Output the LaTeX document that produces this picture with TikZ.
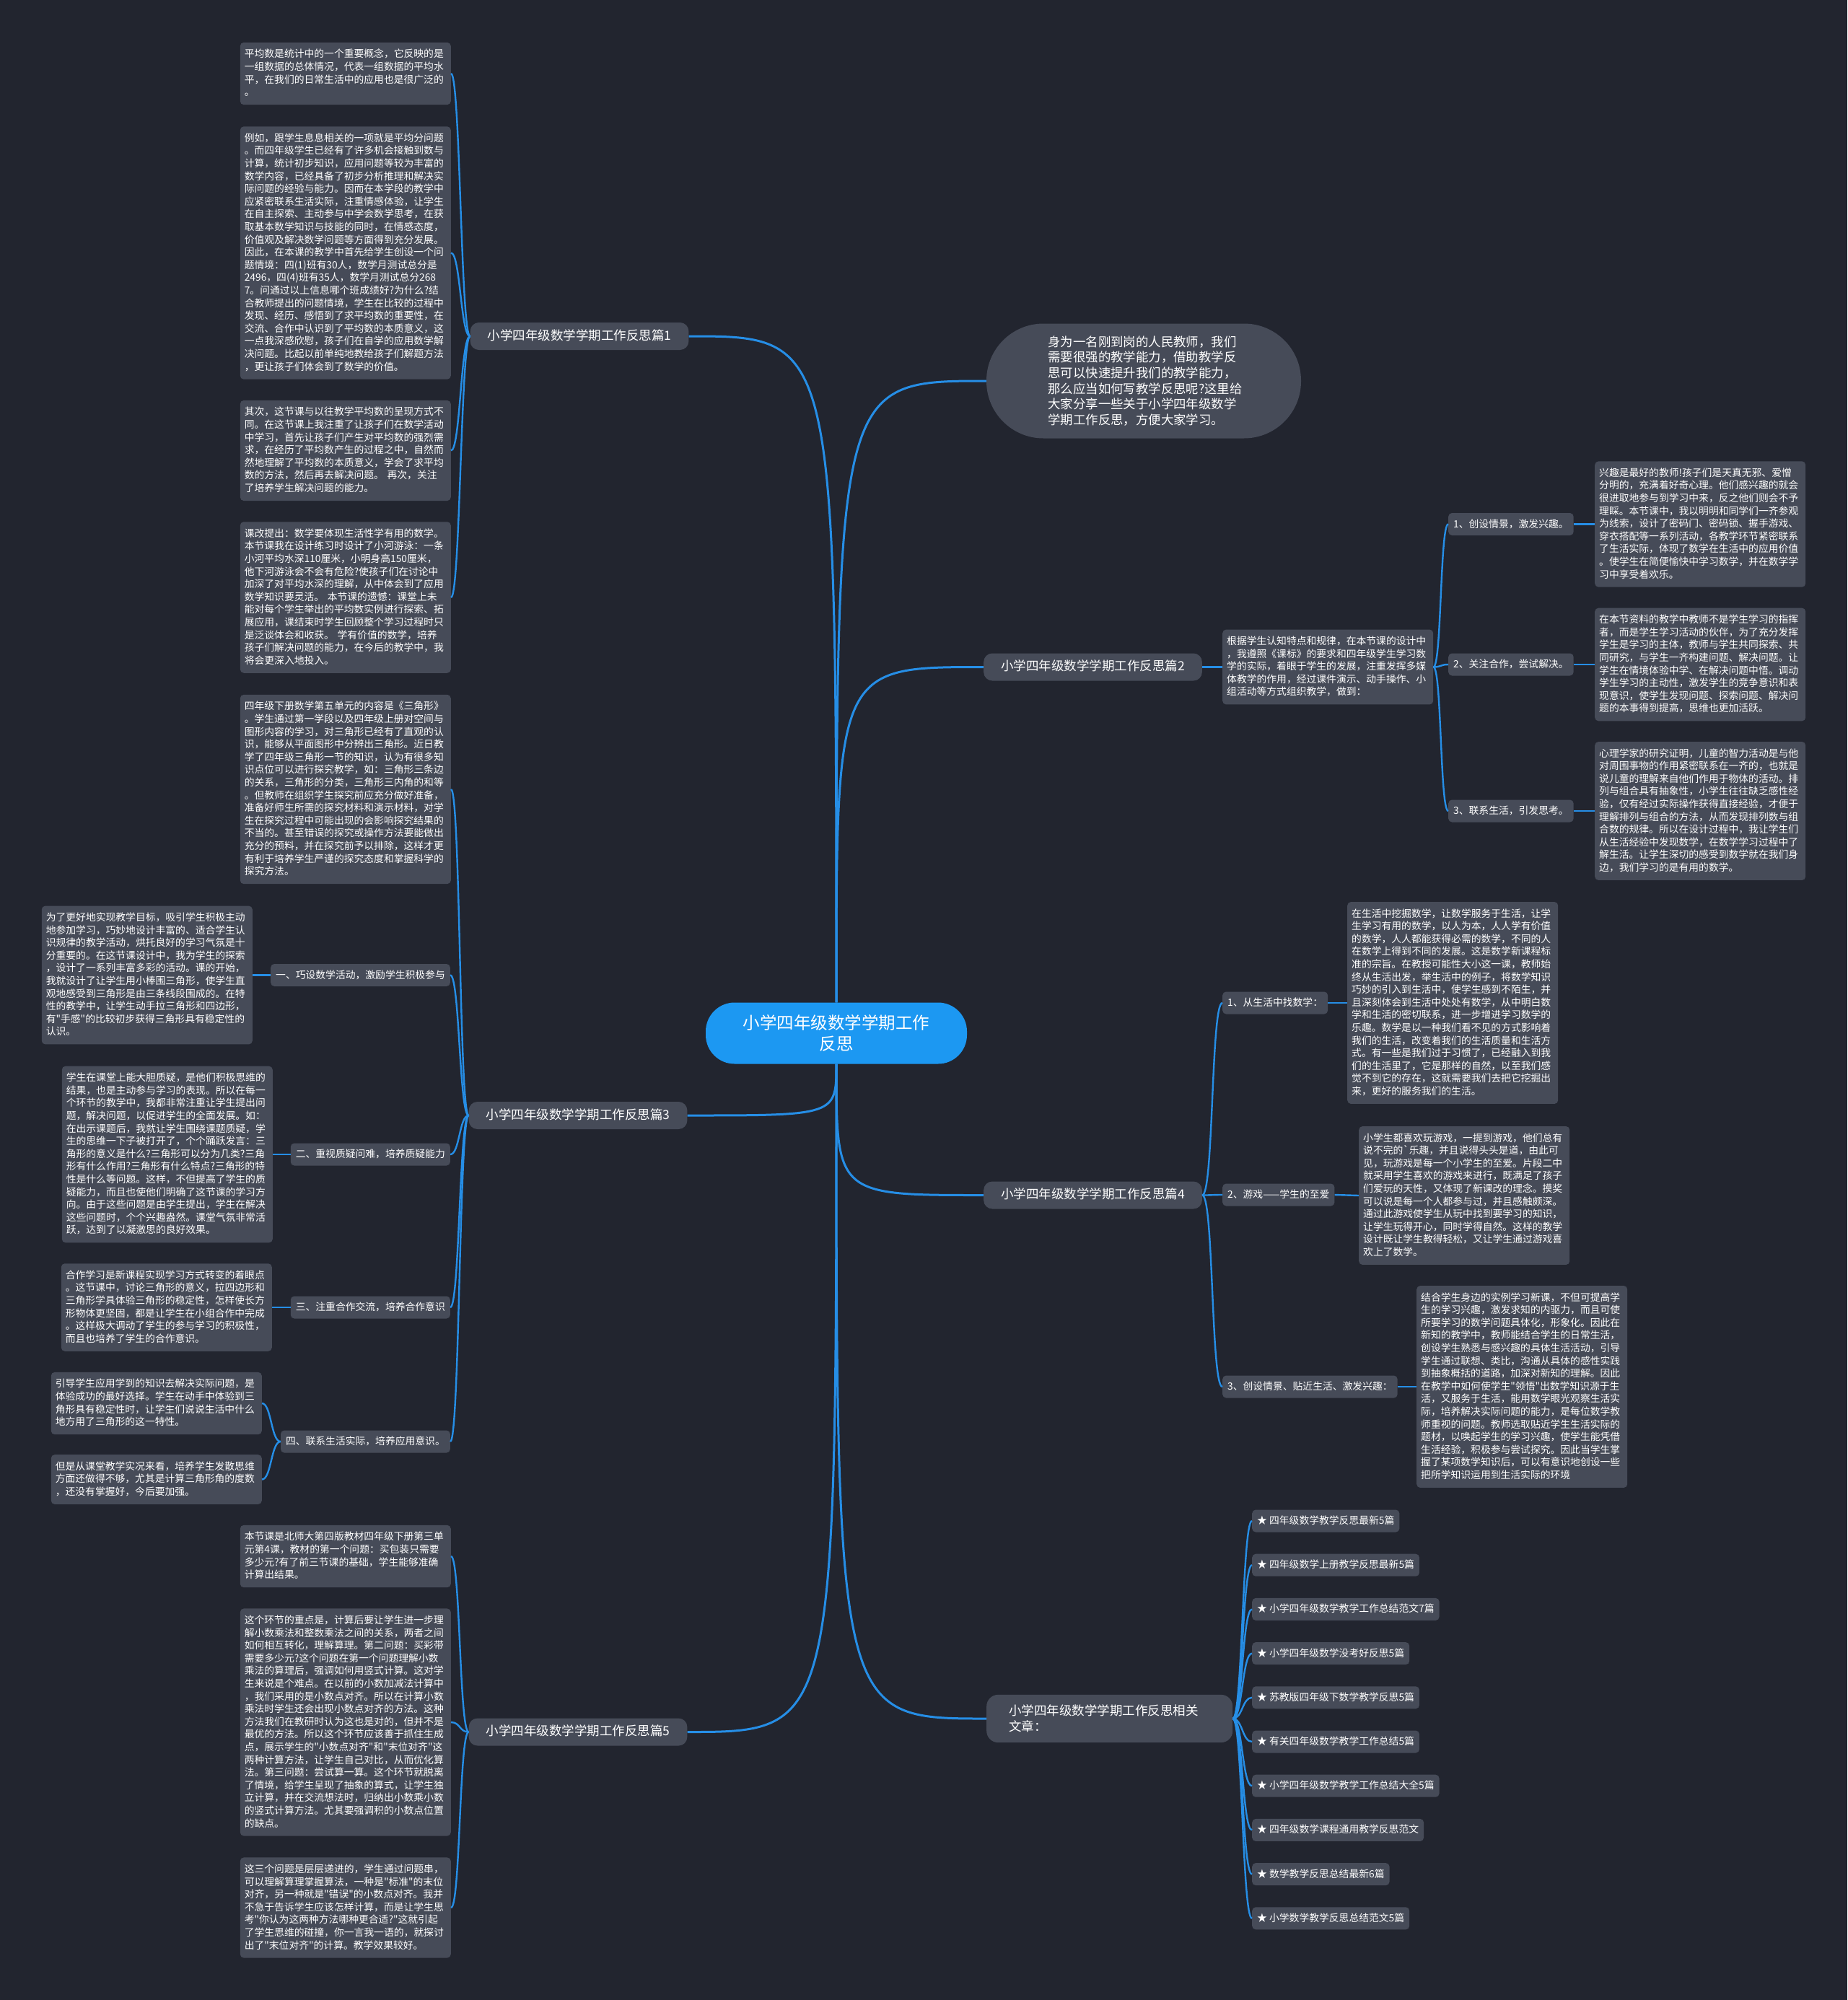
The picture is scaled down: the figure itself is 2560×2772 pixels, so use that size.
\documentclass[tikz,border=0pt]{standalone}
\usepackage{fontspec}
\setmainfont{Noto Sans CJK SC}[Ligatures=TeXOff]
\definecolor{bg}{RGB}{34,37,47}
\definecolor{boxc}{RGB}{70,75,88}
\definecolor{linec}{RGB}{38,142,230}
\definecolor{centc}{RGB}{28,152,242}
\tikzset{
 conn/.style={draw=linec, line width=3pt},
 subconn/.style={draw=linec, line width=2.4pt},
 tbox/.style={fill=boxc, rounded corners=5pt, text=white, align=left, text width=280pt, inner xsep=6pt, inner ysep=9pt, font=\fontsize{13.8pt}{17.6pt}\selectfont, execute at begin node=\rule{0pt}{12pt}, execute at end node=\rule[-3.5pt]{0pt}{3.5pt}},
 lab/.style={fill=boxc, rounded corners=5pt, text=white, inner xsep=7pt, inner ysep=8pt, text height=12pt, text depth=3pt, font=\fontsize{13.8pt}{17.6pt}\selectfont},
 lvl/.style={fill=boxc, rounded corners=12pt, text=white, inner xsep=24pt, inner ysep=10pt, text height=14pt, text depth=4pt, font=\fontsize{17.5pt}{22pt}\selectfont},
}
\begin{document}
\begin{tikzpicture}[x=1pt,y=-1pt]
\fill[bg] (0,0) rectangle (2560,2772);
\useasboundingbox (0,0) rectangle (2560,2772);

% centre and main branches
\node[fill=centc, rounded corners=40pt, text=white, align=center, minimum width=362pt, minimum height=85pt, inner sep=0pt, font=\fontsize{23.5pt}{29pt}\selectfont] (c) at (1159,1432) {小学四年级数学学期工作\\反思};
\node[fill=boxc, rounded corners=79pt, text=white, align=left, text width=265pt, minimum width=436pt, minimum height=159pt, inner sep=0pt, font=\fontsize{17.4pt}{21.7pt}\selectfont] (intro) at (1585,528) {身为一名刚到岗的人民教师，我们\\需要很强的教学能力，借助教学反\\思可以快速提升我们的教学能力，\\那么应当如何写教学反思呢?这里给\\大家分享一些关于小学四年级数学\\学期工作反思，方便大家学习。};
\node[lvl] (p1) at (803,466) {小学四年级数学学期工作反思篇1};
\node[lvl] (p2) at (1514.5,924.5) {小学四年级数学学期工作反思篇2};
\node[lvl] (p3) at (801,1546) {小学四年级数学学期工作反思篇3};
\node[lvl] (p4) at (1514.5,1656.5) {小学四年级数学学期工作反思篇4};
\node[lvl] (p5) at (801,2400.5) {小学四年级数学学期工作反思篇5};
\node[fill=boxc, rounded corners=16pt, text=white, align=left, text width=279pt, inner xsep=31pt, inner ysep=14pt, font=\fontsize{17.5pt}{22pt}\selectfont, anchor=west] (p6) at (1367,2382) {小学四年级数学学期工作反思相关\\文章：};

% branch 1
\node[tbox, anchor=east] (b11) at (625,102) {平均数是统计中的一个重要概念，它反映的是\\一组数据的总体情况，代表一组数据的平均水\\平，在我们的日常生活中的应用也是很广泛的\\。};
\node[tbox, anchor=east] (b12) at (625,350.5) {例如，跟学生息息相关的一项就是平均分问题\\。而四年级学生已经有了许多机会接触到数与\\计算，统计初步知识，应用问题等较为丰富的\\数学内容，已经具备了初步分析推理和解决实\\际问题的经验与能力。因而在本学段的教学中\\应紧密联系生活实际，注重情感体验，让学生\\在自主探索、主动参与中学会数学思考，在获\\取基本数学知识与技能的同时，在情感态度，\\价值观及解决数学问题等方面得到充分发展。\\因此，在本课的教学中首先给学生创设一个问\\题情境：四(1)班有30人，数学月测试总分是\\2496，四(4)班有35人，数学月测试总分268\\7。问通过以上信息哪个班成绩好?为什么?结\\合教师提出的问题情境，学生在比较的过程中\\发现、经历、感悟到了求平均数的重要性，在\\交流、合作中认识到了平均数的本质意义，这\\一点我深感欣慰，孩子们在自学的应用数学解\\决问题。比起以前单纯地教给孩子们解题方法\\，更让孩子们体会到了数学的价值。};
\node[tbox, anchor=east] (b13) at (625,624.5) {其次，这节课与以往教学平均数的呈现方式不\\同。在这节课上我注重了让孩子们在数学活动\\中学习，首先让孩子们产生对平均数的强烈需\\求，在经历了平均数产生的过程之中，自然而\\然地理解了平均数的本质意义，学会了求平均\\数的方法，然后再去解决问题。 再次，关注\\了培养学生解决问题的能力。};
\node[tbox, anchor=east] (b14) at (625,828) {课改提出：数学要体现生活性学有用的数学。\\本节课我在设计练习时设计了小河游泳：一条\\小河平均水深110厘米，小明身高150厘米，\\他下河游泳会不会有危险?使孩子们在讨论中\\加深了对平均水深的理解，从中体会到了应用\\数学知识要灵活。 本节课的遗憾：课堂上未\\能对每个学生举出的平均数实例进行探索、拓\\展应用，课结束时学生回顾整个学习过程时只\\是泛谈体会和收获。 学有价值的数学，培养\\孩子们解决问题的能力，在今后的教学中，我\\将会更深入地投入。};

% branch 3
\node[tbox, anchor=east] (b31) at (625,1094) {四年级下册数学第五单元的内容是《三角形》\\。学生通过第一学段以及四年级上册对空间与\\图形内容的学习，对三角形已经有了直观的认\\识，能够从平面图形中分辨出三角形。近日教\\学了四年级三角形一节的知识，认为有很多知\\识点位可以进行探究教学，如：三角形三条边\\的关系，三角形的分类，三角形三内角的和等\\。但教师在组织学生探究前应充分做好准备，\\准备好师生所需的探究材料和演示材料，对学\\生在探究过程中可能出现的会影响探究结果的\\不当的。甚至错误的探究或操作方法要能做出\\充分的预料，并在探究前予以排除，这样才更\\有利于培养学生严谨的探究态度和掌握科学的\\探究方法。};
\node[lab, anchor=east] (l31) at (624,1351.5) {一、巧设数学活动，激励学生积极参与};
\node[tbox, anchor=east] (b32) at (350,1351.5) {为了更好地实现教学目标，吸引学生积极主动\\地参加学习，巧妙地设计丰富的、适合学生认\\识规律的教学活动，烘托良好的学习气氛是十\\分重要的。在这节课设计中，我为学生的探索\\，设计了一系列丰富多彩的活动。课的开始，\\我就设计了让学生用小棒围三角形，使学生直\\观地感受到三角形是由三条线段围成的。在特\\性的教学中，让学生动手拉三角形和四边形，\\有"手感"的比较初步获得三角形具有稳定性的\\认识。};
\node[lab, anchor=east] (l32) at (624,1600) {二、重视质疑问难，培养质疑能力};
\node[tbox, anchor=east] (b33) at (378,1600) {学生在课堂上能大胆质疑，是他们积极思维的\\结果，也是主动参与学习的表现。所以在每一\\个环节的教学中，我都非常注重让学生提出问\\题，解决问题，以促进学生的全面发展。如：\\在出示课题后，我就让学生围绕课题质疑，学\\生的思维一下子被打开了，个个踊跃发言：三\\角形的意义是什么?三角形可以分为几类?三角\\形有什么作用?三角形有什么特点?三角形的特\\性是什么等问题。这样，不但提高了学生的质\\疑能力，而且也使他们明确了这节课的学习方\\向。由于这些问题是由学生提出，学生在解决\\这些问题时，个个兴趣盎然。课堂气氛非常活\\跃，达到了以凝激思的良好效果。};
\node[lab, anchor=east] (l33) at (624,1812) {三、注重合作交流，培养合作意识};
\node[tbox, anchor=east] (b34) at (377,1812) {合作学习是新课程实现学习方式转变的着眼点\\。这节课中，讨论三角形的意义，拉四边形和\\三角形学具体验三角形的稳定性，怎样使长方\\形物体更坚固，都是让学生在小组合作中完成\\。这样极大调动了学生的参与学习的积极性，\\而且也培养了学生的合作意识。};
\node[lab, anchor=east] (l34) at (624,1998) {四、联系生活实际，培养应用意识。};
\node[tbox, anchor=east] (b35) at (363,1945) {引导学生应用学到的知识去解决实际问题，是\\体验成功的最好选择。学生在动手中体验到三\\角形具有稳定性时，让学生们说说生活中什么\\地方用了三角形的这一特性。};
\node[tbox, anchor=east] (b36) at (363,2050.5) {但是从课堂教学实况来看，培养学生发散思维\\方面还做得不够，尤其是计算三角形角的度数\\，还没有掌握好，今后要加强。};

% branch 5
\node[tbox, anchor=east] (b51) at (625,2157) {本节课是北师大第四版教材四年级下册第三单\\元第4课，教材的第一个问题：买包装只需要\\多少元?有了前三节课的基础，学生能够准确\\计算出结果。};
\node[tbox, anchor=east] (b52) at (625,2387) {这个环节的重点是，计算后要让学生进一步理\\解小数乘法和整数乘法之间的关系，两者之间\\如何相互转化，理解算理。第二问题：买彩带\\需要多少元?这个问题在第一个问题理解小数\\乘法的算理后，强调如何用竖式计算。这对学\\生来说是个难点。在以前的小数加减法计算中\\，我们采用的是小数点对齐。所以在计算小数\\乘法时学生还会出现小数点对齐的方法。这种\\方法我们在教研时认为这也是对的，但并不是\\最优的方法。所以这个环节应该善于抓住生成\\点，展示学生的"小数点对齐"和"末位对齐"这\\两种计算方法，让学生自己对比，从而优化算\\法。第三问题：尝试算一算。这个环节就脱离\\了情境，给学生呈现了抽象的算式，让学生独\\立计算，并在交流想法时，归纳出小数乘小数\\的竖式计算方法。尤其要强调积的小数点位置\\的缺点。};
\node[tbox, anchor=east] (b53) at (625,2644) {这三个问题是层层递进的，学生通过问题串，\\可以理解算理掌握算法，一种是"标准"的末位\\对齐，另一种就是"错误"的小数点对齐。我并\\不急于告诉学生应该怎样计算，而是让学生思\\考"你认为这两种方法哪种更合适?"这就引起\\了学生思维的碰撞，你一言我一语的，就探讨\\出了"末位对齐"的计算。教学效果较好。};

% branch 2
\node[tbox, anchor=west] (b21) at (1694,924.5) {根据学生认知特点和规律，在本节课的设计中\\，我遵照《课标》的要求和四年级学生学习数\\学的实际，着眼于学生的发展，注重发挥多媒\\体教学的作用，经过课件演示、动手操作、小\\组活动等方式组织教学，做到：};
\node[lab, anchor=west] (l21) at (2007,726.5) {1、创设情景，激发兴趣。};
\node[lab, anchor=west] (l22) at (2007,921) {2、关注合作，尝试解决。};
\node[lab, anchor=west] (l23) at (2007,1124) {3、联系生活，引发思考。};
\node[tbox, anchor=west] (b22) at (2210,726.5) {兴趣是最好的教师!孩子们是天真无邪、爱憎\\分明的，充满着好奇心理。他们感兴趣的就会\\很进取地参与到学习中来，反之他们则会不予\\理睬。本节课中，我以明明和同学们一齐参观\\为线索，设计了密码门、密码锁、握手游戏、\\穿衣搭配等一系列活动，各教学环节紧密联系\\了生活实际，体现了数学在生活中的应用价值\\。使学生在简便愉快中学习数学，并在数学学\\习中享受着欢乐。};
\node[tbox, anchor=west] (b23) at (2210,921) {在本节资料的教学中教师不是学生学习的指挥\\者，而是学生学习活动的伙伴，为了充分发挥\\学生是学习的主体，教师与学生共同探索、共\\同研究，与学生一齐构建问题、解决问题。让\\学生在情境体验中学、在解决问题中悟。调动\\学生学习的主动性，激发学生的竞争意识和表\\现意识，使学生发现问题、探索问题、解决问\\题的本事得到提高，思维也更加活跃。};
\node[tbox, anchor=west] (b24) at (2210,1124) {心理学家的研究证明，儿童的智力活动是与他\\对周围事物的作用紧密联系在一齐的，也就是\\说儿童的理解来自他们作用于物体的活动。排\\列与组合具有抽象性，小学生往往缺乏感性经\\验，仅有经过实际操作获得直接经验，才便于\\理解排列与组合的方法，从而发现排列数与组\\合数的规律。所以在设计过程中，我让学生们\\从生活经验中发现数学，在数学学习过程中了\\解生活。让学生深切的感受到数学就在我们身\\边，我们学习的是有用的数学。};

% branch 4
\node[lab, anchor=west] (l41) at (1694,1390) {1、从生活中找数学：};
\node[lab, anchor=west] (l42) at (1694,1656) {2、游戏——学生的至爱};
\node[lab, anchor=west] (l43) at (1694,1922) {3、创设情景、贴近生活、激发兴趣：};
\node[tbox, anchor=west] (b41) at (1867,1390) {在生活中挖掘数学，让数学服务于生活，让学\\生学习有用的数学，以人为本，人人学有价值\\的数学，人人都能获得必需的数学，不同的人\\在数学上得到不同的发展。这是数学新课程标\\准的宗旨。在教授可能性大小这一课，教师始\\终从生活出发，举生活中的例子，将数学知识\\巧妙的引入到生活中，使学生感到不陌生，并\\且深刻体会到生活中处处有数学，从中明白数\\学和生活的密切联系，进一步增进学习数学的\\乐趣。数学是以一种我们看不见的方式影响着\\我们的生活，改变着我们的生活质量和生活方\\式。有一些是我们过于习惯了，已经融入到我\\们的生活里了，它是那样的自然，以至我们感\\觉不到它的存在，这就需要我们去把它挖掘出\\来，更好的服务我们的生活。};
\node[tbox, anchor=west] (b42) at (1883,1657) {小学生都喜欢玩游戏，一提到游戏，他们总有\\说不完的`乐趣，并且说得头头是道，由此可\\见，玩游戏是每一个小学生的至爱。片段二中\\就采用学生喜欢的游戏来进行，既满足了孩子\\们爱玩的天性，又体现了新课改的理念。摸奖\\可以说是每一个人都参与过，并且感触颇深。\\通过此游戏使学生从玩中找到要学习的知识，\\让学生玩得开心，同时学得自然。这样的教学\\设计既让学生教得轻松，又让学生通过游戏喜\\欢上了数学。};
\node[tbox, anchor=west] (b43) at (1963,1922) {结合学生身边的实例学习新课，不但可提高学\\生的学习兴趣，激发求知的内驱力，而且可使\\所要学习的数学问题具体化，形象化。因此在\\新知的教学中，教师能结合学生的日常生活，\\创设学生熟悉与感兴趣的具体生活活动，引导\\学生通过联想、类比，沟通从具体的感性实践\\到抽象概括的道路，加深对新知的理解。因此\\在教学中如何使学生"领悟"出数学知识源于生\\活，又服务于生活，能用数学眼光观察生活实\\际，培养解决实际问题的能力，是每位数学教\\师重视的问题。教师选取贴近学生生活实际的\\题材，以唤起学生的学习兴趣，使学生能凭借\\生活经验，积极参与尝试探究。因此当学生掌\\握了某项数学知识后，可以有意识地创设一些\\把所学知识运用到生活实际的环境};

% related articles
\foreach \t [count=\i] in {四年级数学教学反思最新5篇,四年级数学上册教学反思最新5篇,小学四年级数学教学工作总结范文7篇,小学四年级数学没考好反思5篇,苏教版四年级下数学教学反思5篇,有关四年级数学教学工作总结5篇,小学四年级数学教学工作总结大全5篇,四年级数学课程通用教学反思范文,数学教学反思总结最新6篇,小学数学教学反思总结范文5篇}{
  \node[lab, anchor=west] (li\i) at (1735,{2108+61.2*(\i-1)}) {★ \t};
  \draw[subconn] (p6.east) .. controls +(13.5,0) and +(-13.5,0) .. (li\i.west);
}

% main connectors
\draw[conn] (c.north) .. controls (c.north |- p1.east) .. (p1.east);
\draw[conn] (c.north) .. controls (c.north |- intro.west) .. (intro.west);
\draw[conn] (c.north) .. controls (c.north |- p2.west) .. (p2.west);
\draw[conn] (c.south) .. controls (c.south |- p3.east) .. (p3.east);
\draw[conn] (c.south) .. controls (c.south |- p4.west) .. (p4.west);
\draw[conn] (c.south) .. controls (c.south |- p5.east) .. (p5.east);
\draw[conn] (c.south) .. controls (c.south |- p6.west) .. (p6.west);

% branch 1 connectors
\foreach \n in {b11,b12,b13,b14}
  \draw[subconn] (p1.west) .. controls +(-13,0) and +(13,0) .. (\n.east);
% branch 3 connectors
\foreach \n in {b31,l31,l32,l33,l34}
  \draw[subconn] (p3.west) .. controls +(-13,0) and +(13,0) .. (\n.east);
\draw[subconn] (l31.west) -- (b32.east);
\draw[subconn] (l32.west) -- (b33.east);
\draw[subconn] (l33.west) -- (b34.east);
\foreach \n in {b35,b36}
  \draw[subconn] (l34.west) .. controls +(-13,0) and +(13,0) .. (\n.east);
% branch 5 connectors
\foreach \n in {b51,b52,b53}
  \draw[subconn] (p5.west) .. controls +(-13,0) and +(13,0) .. (\n.east);
% branch 2 connectors
\draw[subconn] (p2.east) -- (b21.west);
\foreach \n in {l21,l22,l23}
  \draw[subconn] (b21.east) .. controls +(11.5,0) and +(-11.5,0) .. (\n.west);
\draw[subconn] (l21.east) -- (b22.west);
\draw[subconn] (l22.east) -- (b23.west);
\draw[subconn] (l23.east) -- (b24.west);
% branch 4 connectors
\foreach \n in {l41,l42,l43}
  \draw[subconn] (p4.east) .. controls +(16,0) and +(-16,0) .. (\n.west);
\draw[subconn] (l41.east) -- (b41.west);
\draw[subconn] (l42.east) -- (b42.west);
\draw[subconn] (l43.east) -- (b43.west);
\end{tikzpicture}
\end{document}
